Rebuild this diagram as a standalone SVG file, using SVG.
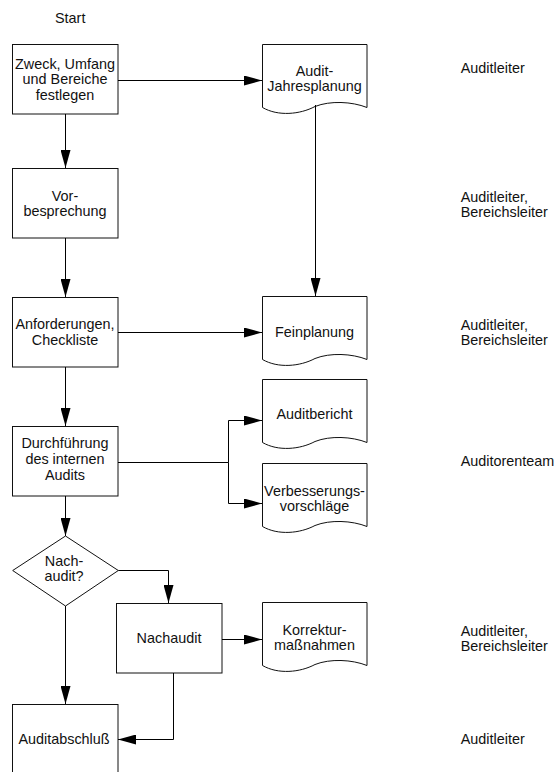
<svg xmlns="http://www.w3.org/2000/svg" width="554" height="772" viewBox="0 0 554 772">
  <style>
    text { font-family: "Liberation Sans", Arial, sans-serif; font-size: 14.4px; fill: #111; }
    .c { text-anchor: middle; }
    .box { fill: #fff; stroke: #111; stroke-width: 1; }
    .doc { fill: #fff; stroke: #111; stroke-width: 1; }
    .wire { fill: none; stroke: #000; stroke-width: 1; }
    .arrow { marker-end: url(#head); }
  </style>
  <defs>
    <marker id="head" markerUnits="userSpaceOnUse" markerWidth="18" markerHeight="10" viewBox="0 0 18 10" refX="18" refY="5" orient="auto">
      <path d="M0,0 L18,5 L0,10 Z" fill="#000"/>
    </marker>
  </defs>

  <rect width="554" height="772" fill="#fff"/>

  <g id="start"><text x="55" y="22.7">Start</text></g>

  <!-- process column -->
  <g id="scope">
    <rect class="box" x="12.5" y="44.5" width="105.5" height="69.5"/>
    <text class="c" x="65" y="68.8">Zweck, Umfang</text>
    <text class="c" x="65" y="84.3">und Bereiche</text>
    <text class="c" x="65" y="99.8">festlegen</text>
  </g>
  <g id="prebriefing">
    <rect class="box" x="12.5" y="168.5" width="105.5" height="69.5"/>
    <text class="c" x="65" y="200.5">Vor-</text>
    <text class="c" x="65" y="216">besprechung</text>
  </g>
  <g id="requirements">
    <rect class="box" x="12.5" y="297.5" width="105.5" height="69.5"/>
    <text class="c" x="65" y="329">Anforderungen,</text>
    <text class="c" x="65" y="344.5">Checkliste</text>
  </g>
  <g id="execution">
    <rect class="box" x="12.5" y="426.5" width="105.5" height="69.5"/>
    <text class="c" x="65" y="448.3">Durchführung</text>
    <text class="c" x="65" y="464.3">des internen</text>
    <text class="c" x="65" y="480.3">Audits</text>
  </g>
  <g id="decision">
    <polygon class="box" points="65.5,536 118.3,570.5 65.5,606 12.7,570.5"/>
    <text class="c" x="64" y="566">Nach-</text>
    <text class="c" x="64" y="581">audit?</text>
  </g>
  <g id="followup">
    <rect class="box" x="116.5" y="603.5" width="105.5" height="69.5"/>
    <text class="c" x="169" y="643">Nachaudit</text>
  </g>
  <g id="closing">
    <rect class="box" x="12.5" y="704.5" width="105.5" height="69.5"/>
    <text class="c" x="64" y="744">Auditabschluß</text>
  </g>

  <!-- document column -->
  <g id="annualplan">
    <path class="doc" d="M262.5,44.5 H367 V107.5 C352,101.5 330,100.5 315,106.5 C300,114.5 278,116.5 262.5,107.5 Z"/>
    <text class="c" x="314.5" y="75.7">Audit-</text>
    <text class="c" x="314.5" y="91">Jahresplanung</text>
  </g>
  <g id="detailplan">
    <path class="doc" d="M262.5,296.5 H367 V359.5 C352,353.5 330,352.5 315,358.5 C300,366.5 278,368.5 262.5,359.5 Z"/>
    <text class="c" x="314.5" y="337">Feinplanung</text>
  </g>
  <g id="report">
    <path class="doc" d="M262.5,379.5 H367 V442.5 C352,436.5 330,435.5 315,441.5 C300,449.5 278,451.5 262.5,442.5 Z"/>
    <text class="c" x="314.5" y="419">Auditbericht</text>
  </g>
  <g id="proposals">
    <path class="doc" d="M262.5,463.5 H367 V526.5 C352,520.5 330,519.5 315,525.5 C300,533.5 278,535.5 262.5,526.5 Z"/>
    <text class="c" x="314.5" y="495.5">Verbesserungs-</text>
    <text class="c" x="314.5" y="511">vorschläge</text>
  </g>
  <g id="corrections">
    <path class="doc" d="M262.5,602.5 H367 V665.5 C352,659.5 330,658.5 315,664.5 C300,672.5 278,674.5 262.5,665.5 Z"/>
    <text class="c" x="314.5" y="635">Korrektur-</text>
    <text class="c" x="314.5" y="650">maßnahmen</text>
  </g>

  <!-- responsibilities -->
  <g id="roles">
    <text x="460.7" y="72.7">Auditleiter</text>
    <text x="460.7" y="201.7">Auditleiter,</text>
    <text x="460.7" y="216.7">Bereichsleiter</text>
    <text x="460.7" y="329.5">Auditleiter,</text>
    <text x="460.7" y="344.5">Bereichsleiter</text>
    <text x="460.7" y="466">Auditorenteam</text>
    <text x="460.7" y="635.5">Auditleiter,</text>
    <text x="460.7" y="650.5">Bereichsleiter</text>
    <text x="460.7" y="744">Auditleiter</text>
  </g>

  <g id="connectors">
    <path class="wire arrow" d="M118,80.5 H262"/>
    <path class="wire arrow" d="M65.5,114 V168"/>
    <path class="wire arrow" d="M315.5,105 V296"/>
    <path class="wire arrow" d="M65.5,238 V297"/>
    <path class="wire arrow" d="M118,332.5 H262"/>
    <path class="wire arrow" d="M65.5,367 V426"/>
    <path class="wire arrow" d="M118,462.5 H228.5 V420.5 H262"/>
    <path class="wire arrow" d="M228.5,462.5 V503.5 H262"/>
    <path class="wire arrow" d="M65.5,496 V536"/>
    <path class="wire arrow" d="M118.3,570.5 H168.5 V603"/>
    <path class="wire arrow" d="M65.5,606 V704"/>
    <path class="wire arrow" d="M222,639.5 H262"/>
    <path class="wire arrow" d="M173.5,673 V739.5 H118"/>
  </g>
</svg>
